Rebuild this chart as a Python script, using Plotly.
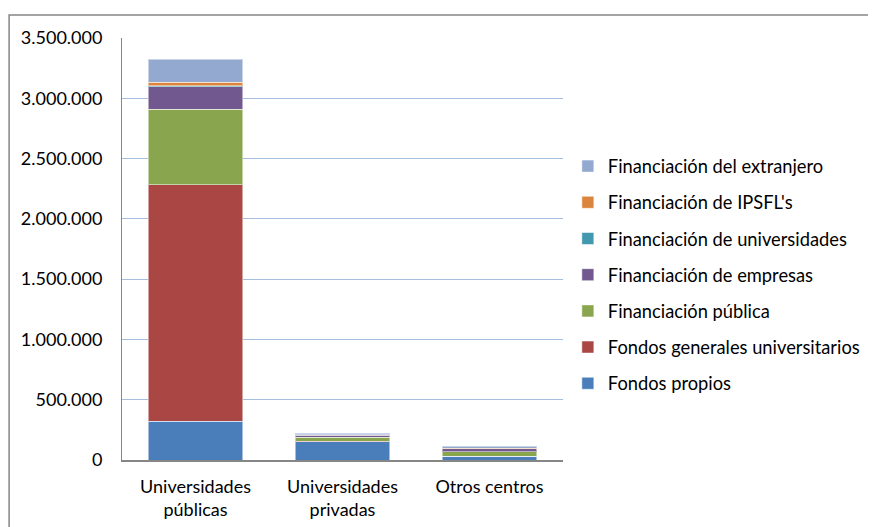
import plotly.graph_objects as go

categories = ["Universidades<br>públicas", "Universidades<br>privadas", "Otros centros"]

fondos_propios = [323000, 152000, 30000]
fondos_generales = [1958000, 3000, 0]
financiacion_publica = [628000, 35000, 38000]
financiacion_empresas = [187000, 16000, 25000]
financiacion_universidades = [8000, 2000, 1000]
financiacion_ipsfl = [30000, 3000, 2000]
financiacion_extranjero = [190000, 10000, 17000]

series = [
    ("Fondos propios", fondos_propios, "#4A7EBB"),
    ("Fondos generales universitarios", fondos_generales, "#AA4643"),
    ("Financiación pública", financiacion_publica, "#89A54E"),
    ("Financiación de empresas", financiacion_empresas, "#71588F"),
    ("Financiación de universidades", financiacion_universidades, "#4198AF"),
    ("Financiación de IPSFL's", financiacion_ipsfl, "#DB843D"),
    ("Financiación del extranjero", financiacion_extranjero, "#93A9CF"),
]

y_ticks = [0, 500000, 1000000, 1500000, 2000000, 2500000, 3000000, 3500000]
y_tick_labels = ["0", "500.000", "1.000.000", "1.500.000", "2.000.000", "2.500.000", "3.000.000", "3.500.000"]

fig = go.Figure()
for i, (name, vals, color) in enumerate(series):
    fig.add_trace(go.Bar(
        x=categories, y=vals, name=name,
        marker=dict(color=color, line=dict(color="rgba(255,255,255,0.5)", width=1)),
        legendgroup=f"g{i}", legendrank=1000 - i,
    ))

FONT = "Lato, 'Open Sans', sans-serif"

# page body has an 8px margin; figure sized to fit the window
fig.update_layout(
    barmode="stack",
    bargap=0.354,
    width=868, height=519,
    margin=dict(l=114, r=313, t=30, b=67, autoexpand=False),
    paper_bgcolor="white", plot_bgcolor="white",
    font=dict(family=FONT, size=18, color="#000000"),
    legend=dict(
        x=1.011, y=0.74, xanchor="left", yanchor="top",
        traceorder="grouped", tracegroupgap=9.4,
        font=dict(family=FONT, size=18.3, color="#000000"),
        itemwidth=30,
    ),
    yaxis=dict(
        range=[0, 3500000], tickvals=y_ticks, ticktext=y_tick_labels,
        showgrid=True, gridcolor="#A7BFDE", gridwidth=1,
        showline=True, linecolor="#868686", linewidth=1,
        ticks="", ticklen=0, zeroline=False, ticklabelstandoff=15,
        automargin=False,
    ),
    xaxis=dict(
        showline=True, linecolor="#868686", linewidth=2,
        ticks="", showgrid=False, ticklabelstandoff=9,
        automargin=False,
    ),
    showlegend=True,
)

fig.add_shape(type="rect", xref="paper", yref="paper",
              x0=-0.256, x1=1.8, y0=-0.3, y1=1.0545,
              line=dict(color="#868686", width=1.5), fillcolor="rgba(0,0,0,0)", layer="below")

fig.write_html("out.html")
